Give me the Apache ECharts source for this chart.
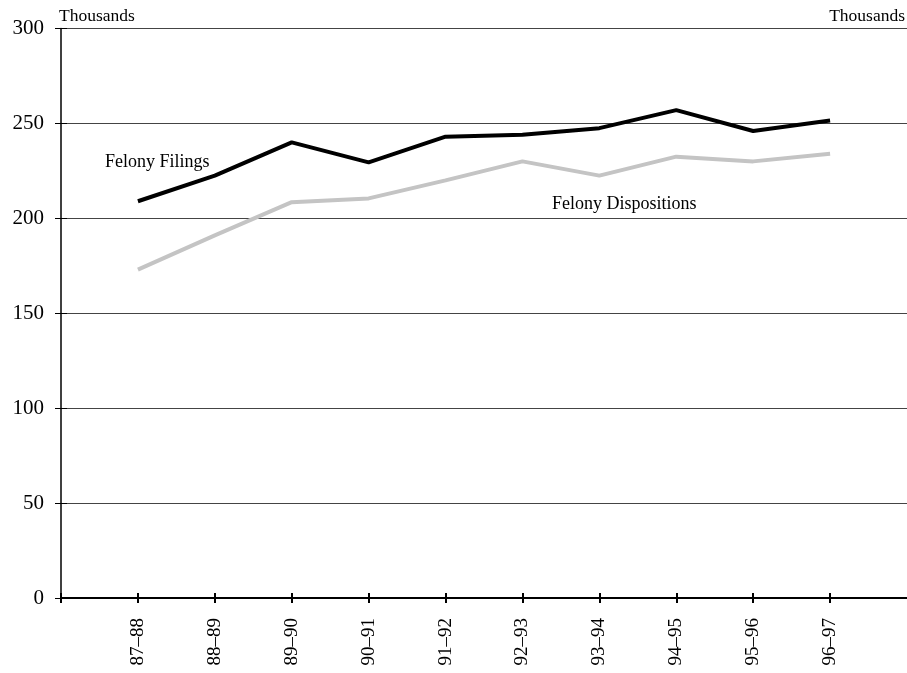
<!DOCTYPE html>
<html><head><meta charset="utf-8">
<script src="https://cdn.jsdelivr.net/npm/echarts@6/dist/echarts.min.js"></script>
<style>html,body{margin:0;padding:0;background:#fff}#c{width:907px;height:673px}</style>
</head><body><div id="c"></div>
<script>
var categories = ['', '87–88', '88–89', '89–90', '90–91', '91–92', '92–93', '93–94', '94–95', '95–96', '96–97', ''];
var filings = [null, 209, 222.5, 240, 229.5, 243, 244, 247.5, 257, 246, 251.5, null];
var dispositions = [null, 173, 191, 208.5, 210.5, 220, 230, 222.5, 232.5, 230, 234, null];
var yTicks = [0, 50, 100, 150, 200, 250, 300];

var font = 'Liberation Serif, Times New Roman, serif';
var chart = echarts.init(document.getElementById('c'), null, {renderer: 'canvas'});
chart.setOption({
  animation: false,
  backgroundColor: '#fff',
  grid: {left: 61, right: 0, top: 28.5, bottom: 75, containLabel: false},
  xAxis: [{
    type: 'category', data: categories, boundaryGap: false,
    axisLine: {lineStyle: {color: '#000', width: 2}},
    axisTick: {show: true, length: 5, lineStyle: {color: '#000', width: 2},
      interval: function (i) { return i < categories.length - 1; }},
    axisLabel: {rotate: 90, margin: 20, interval: 0, color: '#000', fontFamily: font, fontSize: 19},
    splitLine: {show: false}
  }, {
    type: 'category', data: categories, boundaryGap: false, position: 'bottom', offset: 0,
    axisLine: {show: false},
    axisTick: {show: true, inside: true, length: 5, lineStyle: {color: '#000', width: 2},
      interval: function (i) { return i < categories.length - 1; }},
    axisLabel: {show: false}, splitLine: {show: false}
  }],
  yAxis: [{
    type: 'value', min: yTicks[0], max: yTicks[yTicks.length - 1], interval: 50,
    axisLine: {show: true, lineStyle: {color: '#000', width: 1.5}},
    axisTick: {show: true, length: 6, lineStyle: {color: '#000', width: 1}},
    axisLabel: {margin: 17, color: '#000', fontFamily: font, fontSize: 21},
    splitLine: {show: true, lineStyle: {color: '#444', width: 1}}
  }, {
    type: 'value', min: yTicks[0], max: yTicks[yTicks.length - 1], interval: 50, position: 'left', offset: 0,
    axisLine: {show: false},
    axisTick: {show: true, inside: true, length: 6, lineStyle: {color: '#000', width: 1}},
    axisLabel: {show: false}, splitLine: {show: false}
  }],
  graphic: [
    {type: 'text', left: 59, top: 7, style: {text: 'Thousands', font: '17.5px ' + font, fill: '#000'}},
    {type: 'text', right: 2, top: 7, style: {text: 'Thousands', font: '17.5px ' + font, fill: '#000'}},
    {type: 'text', left: 105, top: 153, style: {text: 'Felony Filings', font: '18px ' + font, fill: '#000'}},
    {type: 'text', left: 552, top: 195, style: {text: 'Felony Dispositions', font: '18px ' + font, fill: '#000'}}
  ],
  series: [{
    name: 'Felony Dispositions', type: 'line', data: dispositions, symbol: 'none',
    lineStyle: {color: '#c4c4c4', width: 4}, z: 2
  }, {
    name: 'Felony Filings', type: 'line', data: filings, symbol: 'none',
    lineStyle: {color: '#000', width: 4}, z: 3
  }]
});
</script>
</body></html>
